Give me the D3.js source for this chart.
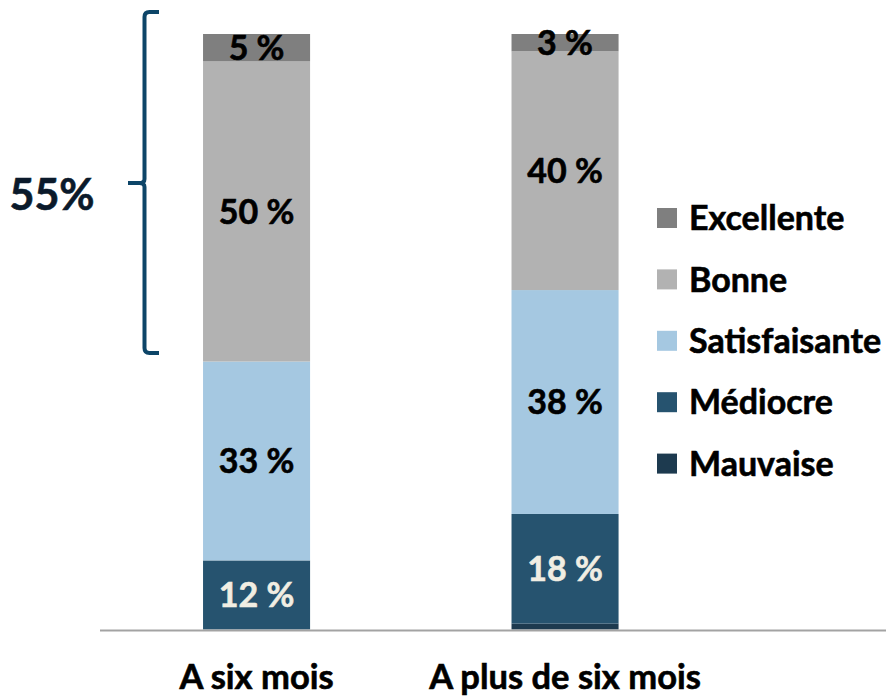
<!DOCTYPE html>
<html>
<head>
<meta charset="utf-8">
<script src="https://cdn.jsdelivr.net/npm/d3@7"></script>
<style>
  body { margin: 0; background: #fff; }
  svg text { font-family: Lato, "Open Sans", sans-serif; font-weight: 700; stroke-width: 0.6px; }
</style>
</head>
<body>
<svg id="chart" width="889" height="696"></svg>
<script>
'use strict';

// categories on the x axis
const categories = ['A six mois', 'A plus de six mois'];

// stack order, bottom to top
const series = ['Mauvaise', 'Médiocre', 'Satisfaisante', 'Bonne', 'Excellente'];

// percentages per series, one value per category
const mauvaise = [0, 1.0];
const mediocre = [11.6, 18.4];
const satisfaisante = [33.4, 37.6];
const bonne = [50.4, 40.1];
const excellente = [4.6, 2.9];

const colors = ['#1d3a4f', '#26536f', '#a5c8e1', '#b2b2b2', '#7f7f7f'];
const bracketLabel = '55%';

(function () {
  const svg = d3.select('#chart');

  const rows = categories.map((cat, i) => ({
    cat,
    Mauvaise: mauvaise[i],
    'Médiocre': mediocre[i],
    Satisfaisante: satisfaisante[i],
    Bonne: bonne[i],
    Excellente: excellente[i]
  }));

  const stacked = d3.stack().keys(series)(rows);

  const x = d3.scaleBand()
    .domain(categories)
    .range([48.8, 772.8])
    .paddingInner(0.653)
    .paddingOuter(0.5);

  const y = d3.scaleLinear().domain([0, 100]).range([629.5, 34]);

  const color = d3.scaleOrdinal().domain(series).range(colors);

  // stacked bars
  const layers = svg.append('g')
    .selectAll('g')
    .data(stacked)
    .join('g')
    .attr('fill', (d) => color(d.key));

  layers.selectAll('rect')
    .data((d) => d)
    .join('rect')
    .attr('x', (d) => x(d.data.cat))
    .attr('y', (d) => y(d[1]))
    .attr('width', x.bandwidth())
    .attr('height', (d) => y(d[0]) - y(d[1]));

  // segment labels
  const labelData = [];
  stacked.forEach((layer) => {
    layer.forEach((d) => {
      const v = d[1] - d[0];
      if (v >= 2) {
        labelData.push({ key: layer.key, cat: d.data.cat, mid: (d[0] + d[1]) / 2, v });
      }
    });
  });

  svg.append('g')
    .selectAll('text')
    .data(labelData)
    .join('text')
    .attr('x', (d) => x(d.cat) + x.bandwidth() / 2)
    .attr('y', (d) => y(d.mid))
    .attr('dy', '0.36em')
    .attr('text-anchor', 'middle')
    .attr('font-size', 34)
    .attr('fill', (d) => (d.key === 'Médiocre' || d.key === 'Mauvaise' ? '#f1eee3' : '#000'))
    .attr('stroke', (d) => (d.key === 'Médiocre' || d.key === 'Mauvaise' ? '#f1eee3' : '#000'))
    .text((d) => `${Math.round(d.v)} %`);

  // baseline
  svg.append('line')
    .attr('x1', 100)
    .attr('x2', 886)
    .attr('y1', y(0) + 1)
    .attr('y2', y(0) + 1)
    .attr('stroke', '#a3a3a3')
    .attr('stroke-width', 2);

  // category axis labels
  const xAxis = svg.append('g')
    .attr('transform', `translate(0,${y(0)})`)
    .call(d3.axisBottom(x).tickSize(0).tickPadding(0));
  xAxis.select('.domain').remove();
  xAxis.selectAll('text')
    .attr('dy', 0)
    .attr('y', 59)
    .attr('fill', '#000')
    .attr('stroke', '#000')
    .style('font-family', 'Lato, sans-serif')
    .style('font-weight', 700)
    .style('font-size', '34.5px');

  // legend, top entry first
  const legend = svg.append('g')
    .selectAll('g')
    .data(series.slice().reverse())
    .join('g')
    .attr('transform', (d, i) => `translate(657,${218 + i * 61.4})`);

  legend.append('rect')
    .attr('x', 0)
    .attr('y', -10)
    .attr('width', 20)
    .attr('height', 20)
    .attr('fill', (d) => color(d));

  legend.append('text')
    .attr('x', 32)
    .attr('dy', '0.36em')
    .attr('font-size', 34)
    .attr('fill', '#000')
    .attr('stroke', '#000')
    .text((d) => d);

  // bracket annotation
  const bx = 144.5;
  const top = 12;
  const bottom = 353;
  const mid = 183;
  const bracket = d3.path();
  bracket.moveTo(159, top);
  bracket.lineTo(bx + 5, top);
  bracket.quadraticCurveTo(bx, top, bx, top + 5);
  bracket.lineTo(bx, mid - 4);
  bracket.quadraticCurveTo(bx, mid, bx - 5, mid);
  bracket.lineTo(128, mid);
  bracket.moveTo(bx - 5, mid);
  bracket.quadraticCurveTo(bx, mid, bx, mid + 4);
  bracket.lineTo(bx, bottom - 5);
  bracket.quadraticCurveTo(bx, bottom, bx + 5, bottom);
  bracket.lineTo(159, bottom);

  svg.append('path')
    .attr('d', bracket.toString())
    .attr('fill', 'none')
    .attr('stroke', '#0d4568')
    .attr('stroke-width', 4);

  svg.append('text')
    .attr('x', 52)
    .attr('y', 195)
    .attr('dy', '0.36em')
    .attr('text-anchor', 'middle')
    .attr('font-size', 43)
    .attr('fill', '#0b1a2b')
    .attr('stroke', '#0b1a2b')
    .text(bracketLabel);
})();
</script>
</body>
</html>
